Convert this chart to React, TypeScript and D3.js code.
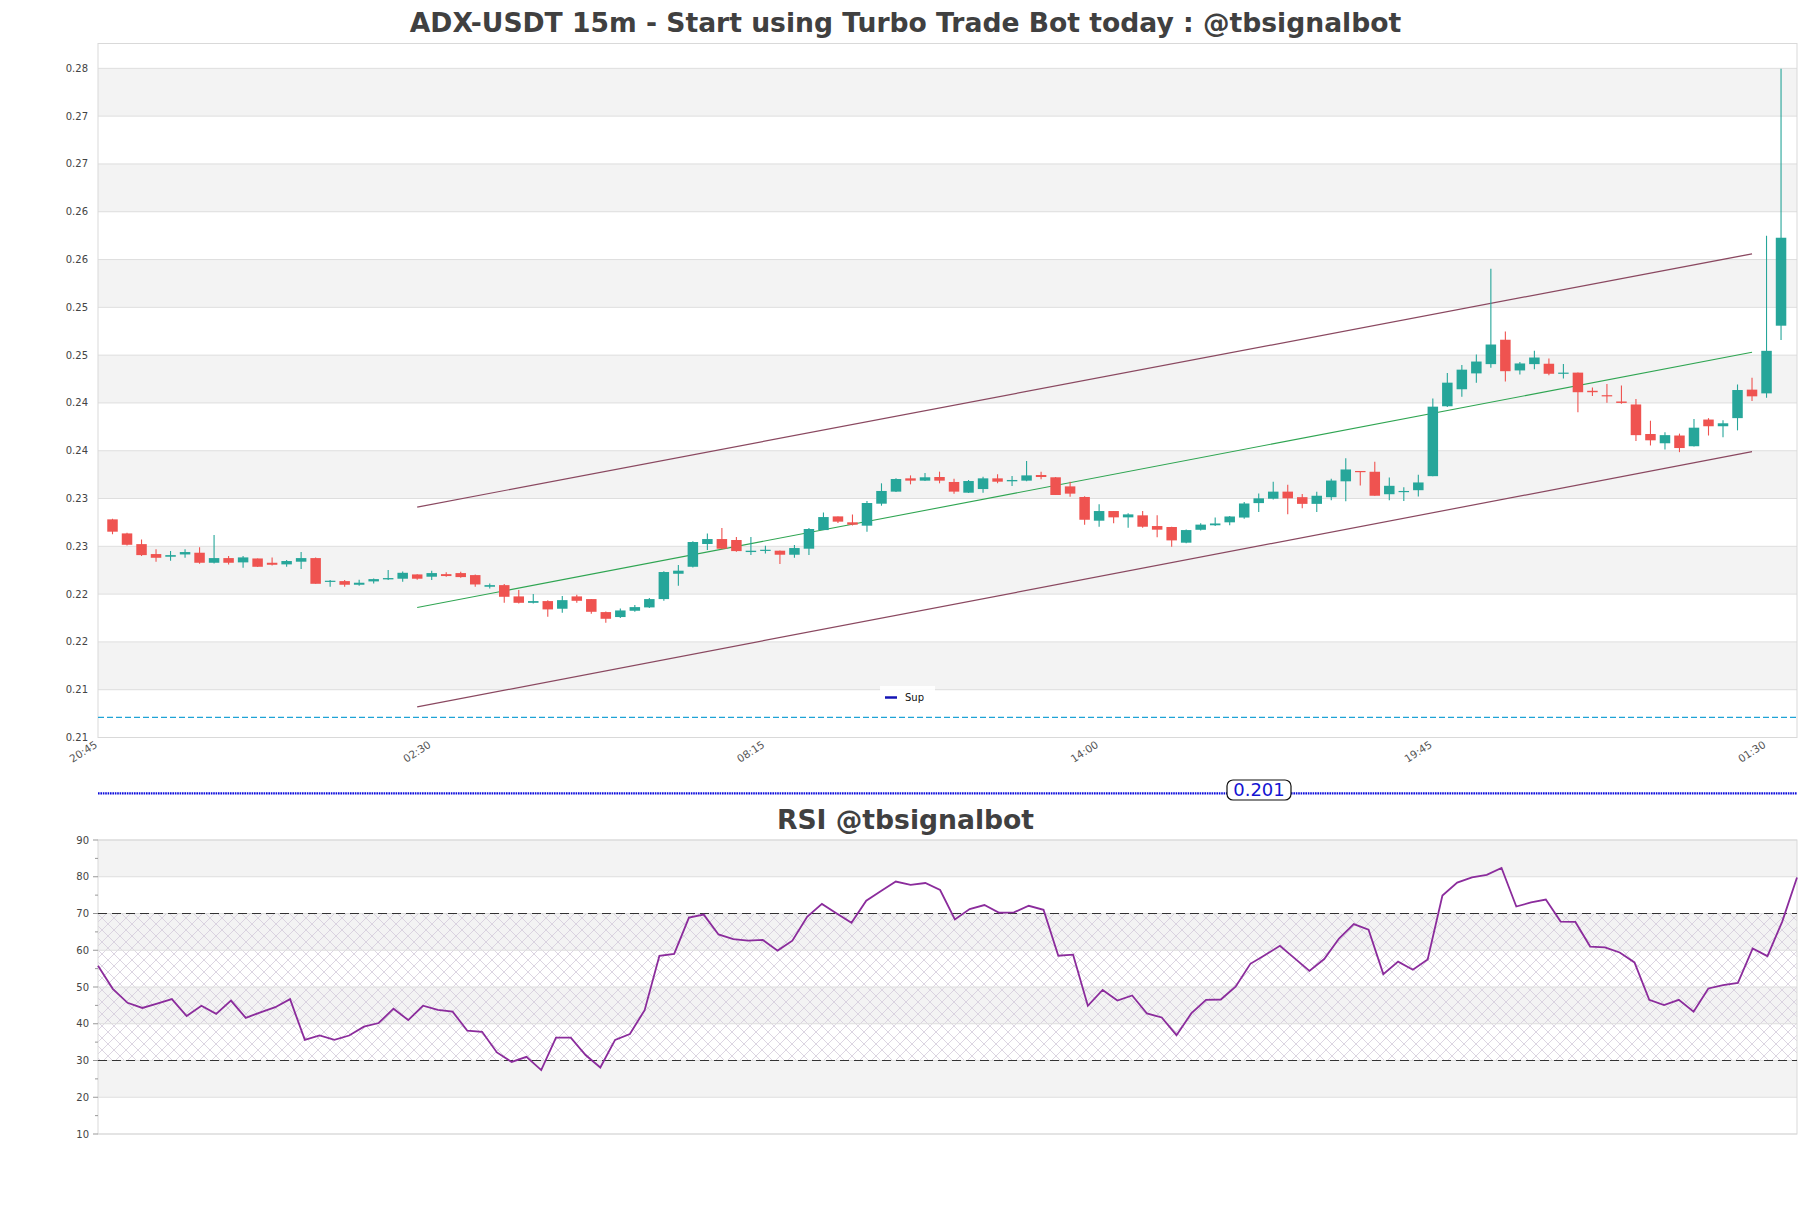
import React from "react";
import * as d3 from "d3";

const W = 1811;
const H = 1208;

const title = "ADX-USDT 15m - Start using Turbo Trade Bot today : @tbsignalbot";
const rsiTitle = "RSI @tbsignalbot";

const opens = [
  0.23282, 0.23135, 0.23023, 0.22919, 0.22891, 0.22915, 0.22933, 0.22828, 0.22877, 0.22832,
  0.22873, 0.22828, 0.22811, 0.22839, 0.22877, 0.22633, 0.22636, 0.22598, 0.22633, 0.22654,
  0.22661, 0.22706, 0.22682, 0.22709, 0.2272, 0.22699, 0.22577, 0.22594, 0.22476, 0.22409,
  0.22427, 0.22347, 0.22476, 0.22448, 0.22312, 0.2226, 0.22326, 0.22361, 0.22448, 0.22713,
  0.22786, 0.23024, 0.23076, 0.23066, 0.2294, 0.22954, 0.22954, 0.22912, 0.22975, 0.2317,
  0.23313, 0.23251, 0.23216, 0.23446, 0.23572, 0.23711, 0.23687, 0.23725, 0.23673, 0.23561,
  0.23599, 0.23711, 0.2368, 0.23687, 0.23746, 0.23722, 0.23627, 0.23516, 0.23268, 0.23369,
  0.23303, 0.23324, 0.23212, 0.23202, 0.23038, 0.23173, 0.2322, 0.23251, 0.23301, 0.23452,
  0.23498, 0.23572, 0.23514, 0.23444, 0.23514, 0.2368, 0.23788, 0.2378, 0.23545, 0.23572,
  0.23587, 0.23734, 0.24465, 0.24643, 0.24809, 0.24906, 0.25161, 0.2484, 0.24906, 0.2491,
  0.24805, 0.24817, 0.24627, 0.24581, 0.24515, 0.24484, 0.24175, 0.24078, 0.24159, 0.24047,
  0.24326, 0.24256, 0.24341, 0.24639, 0.246, 0.25308,
];
const highs = [
  0.23289, 0.23142, 0.23072, 0.22968, 0.2295, 0.22968, 0.22989, 0.23118, 0.22898, 0.22898,
  0.22873, 0.22884, 0.22856, 0.2294, 0.22884, 0.22647, 0.22647, 0.2265, 0.22664, 0.22751,
  0.22737, 0.22709, 0.22744, 0.2273, 0.22734, 0.22706, 0.22612, 0.22605, 0.22542, 0.225,
  0.22437, 0.22479, 0.22493, 0.22448, 0.22319, 0.2235, 0.22385, 0.22459, 0.22738, 0.22804,
  0.23052, 0.23135, 0.23191, 0.23097, 0.23097, 0.23006, 0.22957, 0.23013, 0.23191, 0.23355,
  0.23313, 0.23334, 0.23474, 0.23659, 0.23711, 0.23742, 0.23767, 0.23781, 0.23708, 0.23694,
  0.23729, 0.23753, 0.23736, 0.23893, 0.23781, 0.23725, 0.23676, 0.23523, 0.23439, 0.23369,
  0.23345, 0.23369, 0.23324, 0.23205, 0.23177, 0.2324, 0.23301, 0.23316, 0.23463, 0.23552,
  0.23676, 0.23645, 0.23548, 0.23572, 0.23707, 0.2392, 0.23788, 0.23885, 0.23719, 0.23618,
  0.23749, 0.24546, 0.24813, 0.24898, 0.25006, 0.25903, 0.25246, 0.24929, 0.25045, 0.24964,
  0.24906, 0.24817, 0.24662, 0.24697, 0.24681, 0.24542, 0.24314, 0.24194, 0.24179, 0.24333,
  0.24341, 0.24318, 0.24693, 0.24763, 0.26248, 0.27995,
];
const lows = [
  0.23125, 0.23009, 0.22898, 0.22839, 0.22849, 0.2288, 0.22818, 0.22821, 0.22811, 0.22776,
  0.22783, 0.228, 0.22786, 0.22762, 0.22608, 0.22577, 0.22577, 0.22587, 0.22612, 0.22647,
  0.22629, 0.2265, 0.22647, 0.22682, 0.22671, 0.22577, 0.22559, 0.22409, 0.22402, 0.22402,
  0.22263, 0.22305, 0.22409, 0.22294, 0.222, 0.22249, 0.22315, 0.22354, 0.22431, 0.22588,
  0.22779, 0.22961, 0.22968, 0.22943, 0.22909, 0.22926, 0.22814, 0.22881, 0.22909, 0.2317,
  0.23244, 0.23219, 0.23153, 0.23425, 0.23568, 0.23648, 0.23683, 0.23659, 0.23551, 0.23558,
  0.23561, 0.23659, 0.23631, 0.2368, 0.23701, 0.23537, 0.23519, 0.23226, 0.23205, 0.2324,
  0.23195, 0.23195, 0.23094, 0.22996, 0.23031, 0.23165, 0.23212, 0.2322, 0.23289, 0.23359,
  0.2349, 0.23336, 0.23398, 0.23359, 0.23483, 0.23471, 0.23637, 0.23529, 0.23483, 0.23475,
  0.23521, 0.23734, 0.24457, 0.24565, 0.24712, 0.24867, 0.24724, 0.24797, 0.24852, 0.2479,
  0.24755, 0.24403, 0.24573, 0.24503, 0.24492, 0.24101, 0.24055, 0.24012, 0.23985, 0.24043,
  0.24159, 0.2414, 0.24213, 0.24519, 0.24554, 0.25157,
];
const closes = [
  0.23153, 0.23016, 0.22908, 0.2288, 0.22908, 0.2294, 0.22828, 0.22877, 0.22828, 0.22884,
  0.22786, 0.22807, 0.22846, 0.22877, 0.22608, 0.2264, 0.22598, 0.22619, 0.22657, 0.22668,
  0.22723, 0.22661, 0.2272, 0.22689, 0.22678, 0.22601, 0.22594, 0.22472, 0.22409, 0.22427,
  0.2234, 0.22437, 0.2243, 0.22315, 0.22242, 0.22329, 0.22364, 0.22448, 0.22731, 0.22745,
  0.23045, 0.23076, 0.22975, 0.2295, 0.22954, 0.22964, 0.22912, 0.22982, 0.23181, 0.23306,
  0.23258, 0.23226, 0.23453, 0.23579, 0.23704, 0.23687, 0.23722, 0.23687, 0.23572, 0.23683,
  0.23711, 0.23676, 0.23694, 0.23742, 0.23725, 0.23537, 0.23551, 0.23278, 0.23369, 0.23303,
  0.23334, 0.23205, 0.23174, 0.23062, 0.2317, 0.23227, 0.23239, 0.23312, 0.23448, 0.23502,
  0.23572, 0.23502, 0.23444, 0.23529, 0.23688, 0.23804, 0.23776, 0.23529, 0.23633, 0.23579,
  0.23668, 0.24461, 0.24712, 0.24848, 0.24933, 0.25111, 0.24832, 0.24913, 0.24975, 0.24805,
  0.24817, 0.24612, 0.24612, 0.24569, 0.245, 0.24163, 0.24109, 0.24163, 0.24028, 0.24241,
  0.24256, 0.24287, 0.24635, 0.24569, 0.25045, 0.26228,
];

const rsiValues = [
  55.8, 49.5, 45.7, 44.3, 45.5, 46.7, 42.1, 44.9, 42.7, 46.3,
  41.6, 43.1, 44.5, 46.7, 35.6, 36.8, 35.6, 36.8, 39.2, 40.2,
  44.1, 41.0, 44.9, 43.8, 43.3, 38.1, 37.8, 32.2, 29.6, 31.0,
  27.4, 36.2, 36.2, 31.5, 28.1, 35.6, 37.2, 43.7, 58.5, 59.0,
  68.9, 69.7, 64.3, 63.0, 62.6, 62.8, 59.9, 62.6, 69.1, 72.6,
  70.0, 67.5, 73.5, 76.1, 78.7, 77.8, 78.3, 76.4, 68.4, 71.2,
  72.3, 70.2, 70.3, 72.1, 71.0, 58.5, 58.8, 44.9, 49.2, 46.3,
  47.7, 42.8, 41.7, 36.9, 42.8, 46.5, 46.6, 50.1, 56.3, 58.7,
  61.2, 57.8, 54.4, 57.6, 63.2, 67.1, 65.6, 53.5, 56.9, 54.7,
  57.5, 74.9, 78.4, 79.8, 80.5, 82.4, 71.9, 73.0, 73.8, 67.8,
  67.7, 61.0, 60.8, 59.4, 56.7, 46.5, 45.1, 46.5, 43.3, 49.6,
  50.5, 51.1, 60.5, 58.4, 67.8, 79.8,
];

const timeTickIndex = [-1, 22, 45, 68, 91, 114];
const timeTickLabels = ["20:45", "02:30", "08:15", "14:00", "19:45", "01:30"];

const priceTicks = [0.21, 0.215, 0.22, 0.225, 0.23, 0.235, 0.24, 0.245, 0.25, 0.255, 0.26, 0.265, 0.27, 0.275, 0.28];
const priceTickLabels = ["0.21", "0.21", "0.22", "0.22", "0.23", "0.23", "0.24", "0.24", "0.25", "0.25", "0.26", "0.26", "0.27", "0.27", "0.28"];

const rsiTicks = [10, 20, 30, 40, 50, 60, 70, 80, 90];
const rsiMinorTicks = [15, 25, 35, 45, 55, 65, 75, 85];

const channelIndex = [21, 113];
const channelUpper = [0.2341, 0.2606];
const channelMid = [0.2236, 0.2503];
const channelLower = [0.2132, 0.2399];

const supLevel = 0.2121;
const supLabel = "Sup";
const levelTag = "0.201";
const rsiUpper = 70;
const rsiLower = 30;

const FONT = "DejaVu Sans, Verdana, sans-serif";

export default function App() {
  const L = 98, R = 1797;
  const mainTop = 43.5, mainBottom = 737.5;
  const rsiTop = 840, rsiBottom = 1134;

  const x = d3.scaleLinear().domain([-1, 116.1]).range([L, R]);
  const y = d3.scaleLinear().domain([0.21, 0.2826]).range([mainBottom, mainTop]);
  const xr = d3.scaleLinear().domain([0, rsiValues.length - 1]).range([L, R]);
  const yr = d3.scaleLinear().domain([10, 90]).range([rsiBottom, rsiTop]);

  const bodyW = 10.5;
  const up = "#26a69a";
  const down = "#ef5350";

  const priceBands = [];
  for (let k = 0; k < priceTicks.length - 1; k++) {
    const fromTop = priceTicks.length - 2 - k;
    if (fromTop % 2 === 0) {
      priceBands.push([priceTicks[k], priceTicks[k + 1]]);
    }
  }
  const rsiBands = [[20, 30], [40, 50], [60, 70], [80, 90]];

  const rsiLine = d3
    .line<number>()
    .x((_, i) => xr(i))
    .y((d) => yr(d));

  const chan = (vals: number[]) =>
    d3
      .line<number>()
      .x((_, i) => x(channelIndex[i]))
      .y((d) => y(d))(vals) as string;

  const dottedY = 793.3;
  const tagX0 = 1227, tagX1 = 1291;

  return (
    <svg
      width={W}
      height={H}
      style={{ position: "absolute", left: 0, top: 0, background: "#fff", display: "block" }}
      fontFamily={FONT}
    >
      <defs>
        <pattern id="hatch" patternUnits="userSpaceOnUse" width="12" height="12">
          <path d="M0,0 L12,12 M12,0 L0,12" stroke="#d3cadb" strokeWidth="0.8" fill="none" />
        </pattern>
        <clipPath id="mainClip">
          <rect x={L} y={mainTop} width={R - L} height={mainBottom - mainTop} />
        </clipPath>
      </defs>
      <rect x={0} y={0} width={W} height={H} fill="#fff" />

      <text x={W / 2} y={32} textAnchor="middle" fontSize={26.6} fontWeight="bold" fill="#404040">
        {title}
      </text>

      {priceBands.map((b, i) => (
        <rect key={"pb" + i} x={L} y={y(b[1])} width={R - L} height={y(b[0]) - y(b[1])} fill="#f3f3f3" />
      ))}
      {priceTicks.map((t, i) => (
        <line key={"pg" + i} x1={L} x2={R} y1={y(t)} y2={y(t)} stroke="#dedede" strokeWidth={1} />
      ))}
      <rect x={L} y={mainTop} width={R - L} height={mainBottom - mainTop} fill="none" stroke="#d9d9d9" strokeWidth={1} />

      {priceTicks.map((t, i) => (
        <text key={"pl" + i} x={88} y={y(t)} dy="0.35em" textAnchor="end" fontSize={10} fill="#444">
          {priceTickLabels[i]}
        </text>
      ))}

      {timeTickIndex.map((t, i) => (
        <text
          key={"tl" + i}
          transform={`translate(${x(t)},${mainBottom + 9}) rotate(-33)`}
          textAnchor="end"
          fontSize={10.5}
          fill="#555"
        >
          {timeTickLabels[i]}
        </text>
      ))}

      <g clipPath="url(#mainClip)">
        <line x1={L} x2={R} y1={y(supLevel)} y2={y(supLevel)} stroke="#1fa3d6" strokeWidth={1.2} strokeDasharray="6,3" />

        <path d={chan(channelUpper)} stroke="#8a4860" strokeWidth={1.2} fill="none" />
        <path d={chan(channelLower)} stroke="#8a4860" strokeWidth={1.2} fill="none" />
        <path d={chan(channelMid)} stroke="#2fa552" strokeWidth={1.1} fill="none" />

        {opens.map((o, i) => {
          const c = closes[i];
          const col = c >= o ? up : down;
          const cx = x(i);
          const top = y(Math.max(o, c));
          const bot = y(Math.min(o, c));
          const h = Math.max(bot - top, 1.2);
          return (
            <g key={"c" + i}>
              <line x1={cx} x2={cx} y1={y(highs[i])} y2={y(lows[i])} stroke={col} strokeWidth={1.1} />
              <rect x={cx - bodyW / 2} y={top} width={bodyW} height={h} fill={col} />
            </g>
          );
        })}
      </g>

      <rect x={880} y={686} width={55} height={20} fill="#fff" opacity={0.9} />
      <line x1={885} x2={897} y1={697.5} y2={697.5} stroke="#1414b4" strokeWidth={2.5} />
      <text x={905} y={697} dy="0.35em" fontSize={10} fill="#111">
        {supLabel}
      </text>

      <line x1={L} x2={tagX0} y1={dottedY} y2={dottedY} stroke="#0c0cdc" strokeWidth={2.2} strokeDasharray="1.6,0.8" />
      <line x1={tagX1} x2={R} y1={dottedY} y2={dottedY} stroke="#0c0cdc" strokeWidth={2.2} strokeDasharray="1.6,0.8" />
      <rect x={tagX0} y={780} width={tagX1 - tagX0} height={20} rx={6} ry={6} fill="#fff" stroke="#111" strokeWidth={1.2} />
      <text x={(tagX0 + tagX1) / 2} y={790} dy="0.36em" textAnchor="middle" fontSize={18} fill="#1414d2">
        {levelTag}
      </text>

      <text x={W / 2} y={829} textAnchor="middle" fontSize={26.6} fontWeight="bold" fill="#404040">
        {rsiTitle}
      </text>

      {rsiBands.map((b, i) => (
        <rect key={"rb" + i} x={L} y={yr(b[1])} width={R - L} height={yr(b[0]) - yr(b[1])} fill="#f3f3f3" />
      ))}
      <rect x={L} y={yr(rsiUpper)} width={R - L} height={yr(rsiLower) - yr(rsiUpper)} fill="url(#hatch)" />
      {rsiTicks.map((t, i) => (
        <line key={"rg" + i} x1={L} x2={R} y1={yr(t)} y2={yr(t)} stroke="#dedede" strokeWidth={1} />
      ))}
      <rect x={L} y={rsiTop} width={R - L} height={rsiBottom - rsiTop} fill="none" stroke="#d9d9d9" strokeWidth={1} />
      {rsiTicks.map((t, i) => (
        <g key={"rt" + i}>
          <line x1={L - 5} x2={L} y1={yr(t)} y2={yr(t)} stroke="#999" strokeWidth={1} />
          <text x={89} y={yr(t)} dy="0.35em" textAnchor="end" fontSize={10} fill="#444">
            {t}
          </text>
        </g>
      ))}
      {rsiMinorTicks.map((t, i) => (
        <line key={"rm" + i} x1={L - 3} x2={L} y1={yr(t)} y2={yr(t)} stroke="#999" strokeWidth={1} />
      ))}
      <line x1={L} x2={R} y1={yr(rsiUpper)} y2={yr(rsiUpper)} stroke="#333" strokeWidth={1.2} strokeDasharray="9,5" />
      <line x1={L} x2={R} y1={yr(rsiLower)} y2={yr(rsiLower)} stroke="#333" strokeWidth={1.2} strokeDasharray="9,5" />
      <path d={rsiLine(rsiValues) as string} stroke="#8b2c9c" strokeWidth={1.8} fill="none" />
    </svg>
  );
}
